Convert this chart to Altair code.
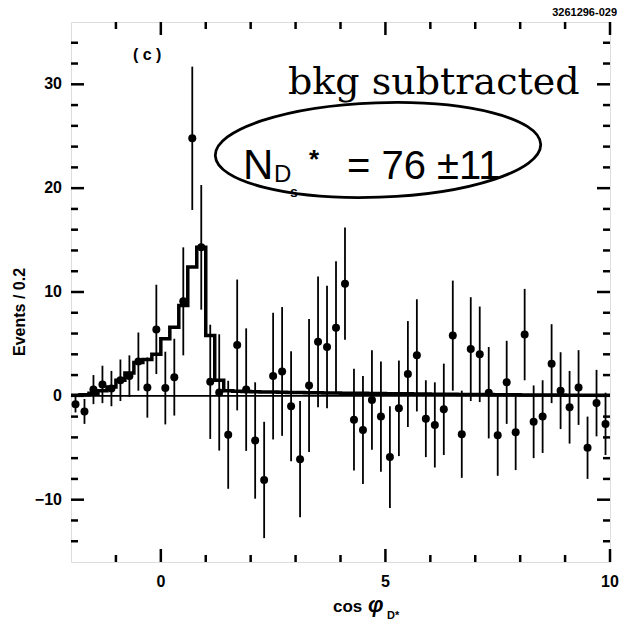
import altair as alt
import pandas as pd

# ---------------- data ----------------
bin_width = 0.2
x_start = -2.0
x_domain = [-2, 10]
y_domain = [-16, 36]

counts = [-0.8, -1.5, 0.6, 1.1, 0.7, 1.5, 1.9, 3.3, 0.8, 6.4,
          0.75, 1.8, 9.1, 24.8, 14.3, 1.35, 0.33, -3.75, 4.9, 0.6,
          -4.3, -8.1, 1.9, 2.35, -1.0, -6.1, 1.0, 5.2, 4.7, 6.55,
          10.8, -2.3, -3.3, -0.4, -2.0, -5.9, -1.2, 2.1, 3.9, -2.2,
          -2.8, -1.3, 5.8, -3.7, 4.5, 4.0, 0.3, -3.8, 1.3, -3.5,
          5.9, -2.5, -2.0, 3.1, 0.5, -1.1, 0.8, -5.0, -0.7, -2.7]
errors = [0.8, 1.2, 1.4, 1.8, 1.7, 2.0, 2.0, 2.8, 2.9, 4.3,
          3.5, 3.7, 5.2, 6.9, 6.0, 5.5, 5.6, 5.2, 6.3, 5.9,
          5.6, 5.6, 6.1, 6.2, 5.3, 5.6, 6.4, 6.3, 5.9, 6.4,
          5.4, 4.9, 5.2, 4.8, 5.3, 4.9, 4.6, 5.1, 5.4, 3.7,
          4.1, 4.4, 5.3, 4.2, 5.0, 4.6, 4.4, 3.9, 4.0, 3.65,
          4.4, 3.5, 3.5, 3.8, 3.7, 3.5, 3.6, 3.0, 3.2, 3.0]
fit = [0.05, 0.1, 0.25, 0.5, 0.85, 1.5, 2.2, 3.2, 3.5, 4.0,
       5.5, 6.6, 8.7, 12.4, 14.3, 5.8, 1.5, 0.5, 0.45, 0.42,
       0.4, 0.38, 0.36, 0.35, 0.33, 0.32, 0.3, 0.29, 0.28, 0.27,
       0.26, 0.25, 0.24, 0.23, 0.22, 0.21, 0.2, 0.19, 0.18, 0.17,
       0.16, 0.15, 0.15, 0.14, 0.13, 0.12, 0.12, 0.11, 0.1, 0.1,
       0.09, 0.08, 0.08, 0.07, 0.07, 0.06, 0.06, 0.05, 0.05, 0.05]

x_major = [0, 5, 10]
x_minor = [-1, 1, 2, 3, 4, 6, 7, 8, 9]
y_major = [-10, 0, 10, 20, 30]
y_minor = [-14, -12, -8, -6, -4, -2, 2, 4, 6, 8, 12, 14, 16, 18,
           22, 24, 26, 28, 32, 34]
x_labels = ["0", "5", "10"]
y_labels = ["\u221210", "0", "10", "20", "30"]

x_title = "cos"
phi = "φ"
x_sub = "D*"
y_title = "Events / 0.2"
panel_label = "( c )"
fig_id = "3261296-029"
note = "bkg subtracted"

# ---------------- tables ----------------
centers = [round(x_start + bin_width * (i + 0.5), 3) for i in range(len(counts))]
pts = pd.DataFrame({
    "x": centers,
    "y": counts,
    "lo": [c - e for c, e in zip(counts, errors)],
    "hi": [c + e for c, e in zip(counts, errors)],
})
edges = [round(x_start + bin_width * i, 3) for i in range(len(fit) + 1)]
fit_df = pd.DataFrame({"x": edges, "y": fit + [fit[-1]]})
xlab_df = pd.DataFrame({"v": x_major, "t": x_labels})
ylab_df = pd.DataFrame({"v": y_major, "t": y_labels})

W, H = 539, 540
xs = alt.Scale(domain=x_domain, nice=False, zero=False)
ys = alt.Scale(domain=y_domain, nice=False, zero=False)

label_font = "Liberation Sans"

zero = alt.Chart(pd.DataFrame({"y": [0]})).mark_rule(
    color="black", strokeWidth=1.6).encode(
    y=alt.Y("y:Q", scale=ys, axis=None))

fit_line = alt.Chart(fit_df).mark_line(
    interpolate="step-after", color="black", strokeWidth=3.5).encode(
    x=alt.X("x:Q", scale=xs, axis=None),
    y=alt.Y("y:Q", scale=ys, axis=None))

bars = alt.Chart(pts).mark_rule(color="black", strokeWidth=1.8).encode(
    x=alt.X("x:Q", scale=xs, axis=None),
    y=alt.Y("lo:Q", scale=ys, axis=None),
    y2="hi:Q")

dots = alt.Chart(pts).mark_circle(color="black", size=64, opacity=1).encode(
    x=alt.X("x:Q", scale=xs, axis=None),
    y=alt.Y("y:Q", scale=ys, axis=None))

def xticks(vals, length):
    d = pd.DataFrame({"v": vals})
    bot = alt.Chart(d).mark_rule(color="black", strokeWidth=2.5).encode(
        x=alt.X("v:Q", scale=xs, axis=None), y=alt.value(H), y2=alt.value(H - length))
    top = alt.Chart(d).mark_rule(color="black", strokeWidth=2.5).encode(
        x=alt.X("v:Q", scale=xs, axis=None), y=alt.value(0), y2=alt.value(length))
    return [bot, top]

def yticks(vals, length):
    d = pd.DataFrame({"v": vals})
    left = alt.Chart(d).mark_rule(color="black", strokeWidth=2.5).encode(
        y=alt.Y("v:Q", scale=ys, axis=None), x=alt.value(0), x2=alt.value(length))
    right = alt.Chart(d).mark_rule(color="black", strokeWidth=2.5).encode(
        y=alt.Y("v:Q", scale=ys, axis=None), x=alt.value(W - length), x2=alt.value(W))
    return [left, right]

ticks = xticks(x_major, 13) + xticks(x_minor, 7) + yticks(y_major, 13) + yticks(y_minor, 7)

xlabels = alt.Chart(xlab_df).mark_text(
    font=label_font, fontWeight="bold", fontSize=16, baseline="middle",
    align="center", color="black").encode(
    x=alt.X("v:Q", scale=xs, axis=None), y=alt.value(H + 20), text="t:N")
ylabels = alt.Chart(ylab_df).mark_text(
    font=label_font, fontWeight="bold", fontSize=16, baseline="middle",
    align="right", color="black").encode(
    y=alt.Y("v:Q", scale=ys, axis=None), x=alt.value(-9), text="t:N")

one = pd.DataFrame({"a": [0]})

def txt(text, x, y, size, font=label_font, weight="bold", style="normal",
        align="left", baseline="alphabetic", angle=0):
    return alt.Chart(one).mark_text(
        text=text, fontSize=size, font=font, fontWeight=weight, fontStyle=style,
        align=align, baseline=baseline, angle=angle, color="black").encode(
        x=alt.value(x), y=alt.value(y))

ellipse_path = ("M -1,0 C -1,-0.16 -0.552,-0.29 0,-0.29 C 0.552,-0.29 1,-0.16 1,0 "
                "C 1,0.16 0.552,0.29 0,0.29 C -0.552,0.29 -1,0.16 -1,0 Z")
ellipse = alt.Chart(one).mark_point(
    shape=ellipse_path, size=106000, filled=False, color="black",
    strokeWidth=2.8, opacity=1, angle=358).encode(
    x=alt.value(307), y=alt.value(128))

hand = "Liberation Sans"
texts = [
    txt(panel_label, 62, 38, 16),
    txt(fig_id, 546, -6, 11, align="right"),
    txt(note, 217, 72, 38, font="DejaVu Serif", weight="normal"),
    txt("N", 172, 157, 42, font=hand, weight="normal"),
    txt("D", 203, 160, 24, font=hand, weight="normal"),
    txt("s", 219, 175, 14, font=hand, weight="bold"),
    txt("*", 238, 146, 26, font=hand, weight="bold"),
    txt("= 76 ±11", 276, 157, 40, font=hand, weight="normal"),
    txt(x_title, 262, 590, 17),
    txt(phi, 297, 590, 22, style="italic"),
    txt(x_sub, 316, 597, 11),
    txt(y_title, -51, 290, 16, align="center", baseline="middle", angle=270),
]

chart = alt.layer(zero, fit_line, bars, dots, *ticks, xlabels, ylabels,
                  ellipse, *texts).properties(
    width=W, height=H,
    padding={"left": 71, "top": 22, "right": 9, "bottom": 68},
    autosize=alt.AutoSizeParams(type="none"),
).configure_view(stroke="black", strokeWidth=3).configure(background="white")

chart.save("out.html", embed_options={"renderer": "svg", "actions": False})
